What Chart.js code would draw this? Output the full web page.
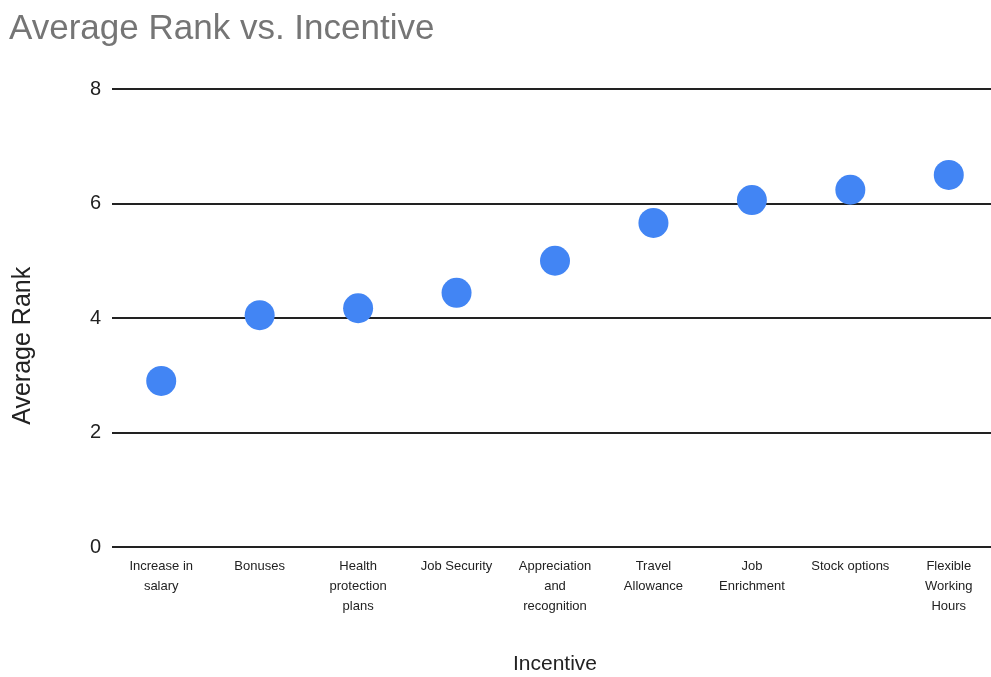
<!DOCTYPE html>
<html>
<head>
<meta charset="utf-8">
<script src="https://cdn.jsdelivr.net/npm/chart.js@4"></script>
<style>
  html, body { margin: 0; padding: 0; background: #fff; overflow: hidden; }
  /* 画布比窗口宽 7px，右侧被裁掉，网格线到边缘为止 */
  #wrap { width: 991px; height: 677px; overflow: hidden; }
</style>
</head>
<body>
<div id="wrap"><canvas id="rankChart" width="998" height="677"></canvas></div>
<script>
// 数据
const incentives = [
    ['Increase in', 'salary'],
    'Bonuses',
    ['Health', 'protection', 'plans'],
    'Job Security',
    ['Appreciation', 'and', 'recognition'],
    ['Travel', 'Allowance'],
    ['Job', 'Enrichment'],
    'Stock options',
    ['Flexible', 'Working', 'Hours']
];
const averageRank = [2.90, 4.05, 4.17, 4.44, 5.00, 5.66, 6.06, 6.24, 6.50];
const yTicks = [0, 2, 4, 6, 8];

const ctx = document.getElementById('rankChart').getContext('2d');
new Chart(ctx, {
    type: 'line',
    data: {
        labels: incentives,
        datasets: [{
            label: 'Average Rank',
            data: averageRank,
            showLine: false,
            pointRadius: 15,
            pointHoverRadius: 15,
            pointBorderWidth: 0,
            pointBackgroundColor: '#4285F4',
            borderColor: '#4285F4'
        }]
    },
    options: {
        responsive: false,
        animation: false,
        events: [],
        layout: {
            autoPadding: false,
            padding: { left: 9, top: 0, right: 0, bottom: 0 }
        },
        scales: {
            x: {
                type: 'category',
                offset: true,
                grid: { display: false, drawTicks: false },
                border: { display: false },
                ticks: {
                    autoSkip: false,
                    maxRotation: 0,
                    minRotation: 0,
                    padding: 9,
                    color: '#222',
                    font: { family: "'Liberation Sans Narrow', 'Arial Narrow', 'Liberation Sans', sans-serif", size: 13, lineHeight: '20px' }
                },
                title: {
                    display: true,
                    text: 'Incentive',
                    color: '#222',
                    padding: { top: 0, bottom: 0 },
                    font: { family: "'Liberation Sans', Arial, sans-serif", size: 21 }
                },
                afterFit: function(scale) {
                    scale.height = 130;
                    scale.paddingLeft = 0;
                    scale.paddingRight = 0;
                }
            },
            y: {
                min: 0,
                max: 8,
                grid: { color: '#222', lineWidth: 2, drawTicks: false },
                border: { display: false },
                afterBuildTicks: function(scale) {
                    scale.ticks = yTicks.map(v => ({ value: v }));
                },
                ticks: {
                    padding: 11,
                    color: '#222',
                    font: { family: "'Liberation Sans', Arial, sans-serif", size: 20 }
                },
                title: {
                    display: true,
                    // 末尾空格让标题略向下移，与原图一致
                    text: 'Average Rank        ',
                    color: '#222',
                    padding: { top: 0, bottom: 0 },
                    font: { family: "'Liberation Sans', Arial, sans-serif", size: 25, lineHeight: 1.1 }
                },
                afterFit: function(scale) { scale.width = 103; }
            }
        },
        plugins: {
            legend: { display: false },
            tooltip: { enabled: false },
            title: {
                display: true,
                text: 'Average Rank vs. Incentive',
                align: 'start',
                color: '#757575',
                padding: { top: 8, bottom: 39 },
                font: { family: "'Liberation Sans', Arial, sans-serif", size: 35, weight: 'normal', lineHeight: 1.2 }
            }
        }
    }
});
</script>
</body>
</html>
